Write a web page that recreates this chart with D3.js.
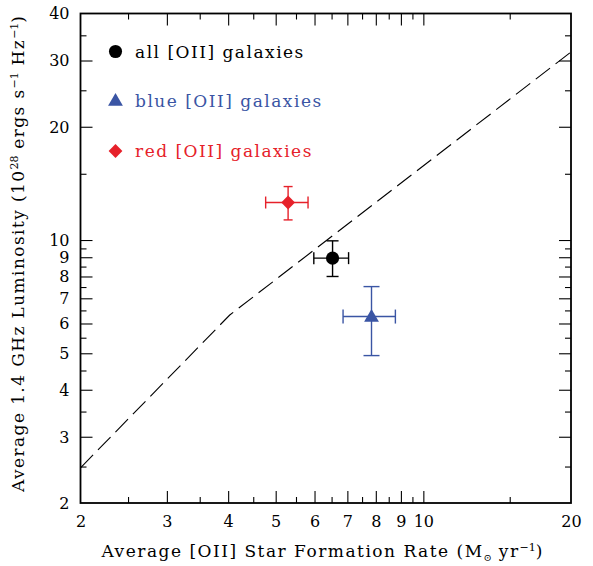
<!DOCTYPE html>
<html><head><meta charset="utf-8">
<script src="https://cdn.jsdelivr.net/npm/d3@7"></script>
<style>
body{margin:0;background:#fff;}
svg{display:block;}
text{font-family:"DejaVu Serif",serif;}
</style></head>
<body><svg id="c" width="593" height="566"></svg>
<script>
// ---- data ----
const seriesNames = ["all [OII] galaxies", "blue [OII] galaxies", "red [OII] galaxies"];
const sfrValues   = [6.53, 7.84, 5.30];
const sfrLow      = [5.98, 6.86, 4.77];
const sfrHigh     = [7.04, 8.77, 5.82];
const lumValues   = [8.95, 6.26, 12.58];
const lumLow      = [8.00, 4.93, 11.31];
const lumHigh     = [9.95, 7.52, 13.87];
const relSfr = [2, 4.03, 20];
const relLum = [2.48, 6.32, 31.6];
const xMajorTicks = [3,4,5,6,7,8,9,10];
const xMinorTicks = [2.5,3.5,4.5,5.5,6.5,7.5,8.5,9.5,15];
const xTickLabels = [2,3,4,5,6,7,8,9,10,20];
const yMajorTicks = [3,4,5,6,7,8,9,10,20,30];
const yMinorTicks = [2.5,3.5,4.5,5.5,6.5,7.5,8.5,9.5,15,25,35];
const yTickLabels = [2,3,4,5,6,7,8,9,10,20,30,40];

// ---- styles ----
const colors = ["#000000", "#3a55a4", "#e6212a"];
const shapes = [d3.symbolCircle, d3.symbolTriangle, d3.symbolSquare];
const symSize = [135, 95, 95];
const symRot = [0, 0, 45];
const capX = [6, 7, 6];   // half height of caps on x error bar
const capY = [6, 8, 4.5]; // half width of caps on y error bar

const L = 80.5, R = 571, T = 13.5, B = 503;
const svg = d3.select("#c");
const x = d3.scaleLog().domain([2,20]).range([L,R]);
const y = d3.scaleLog().domain([2,40]).range([B,T]);

function ax(gen, tr, vals, size, labels){
  const g = svg.append("g").attr("transform", tr)
    .call(gen.tickValues(vals).tickSize(size).tickPadding(labels?9:0)
      .tickFormat(labels ? d3.format("d") : ""));
  g.select(".domain").remove();
  g.selectAll(".tick line").attr("stroke","#000").attr("stroke-width",1.1);
  g.selectAll(".tick text").attr("font-size",16).attr("fill","#000").attr("font-family","DejaVu Serif");
  return g;
}
// bottom
ax(d3.axisBottom(x), `translate(0,${B})`, xMajorTicks, -12, false);
ax(d3.axisBottom(x), `translate(0,${B})`, xMinorTicks, -6, false);
const xl = ax(d3.axisBottom(x), `translate(0,${B})`, xTickLabels, 0, true);
xl.selectAll(".tick text").attr("dy","0.95em");
// top
ax(d3.axisTop(x), `translate(0,${T})`, xMajorTicks, -12, false);
ax(d3.axisTop(x), `translate(0,${T})`, xMinorTicks, -6, false);
// left
ax(d3.axisLeft(y), `translate(${L},0)`, yMajorTicks, -12, false);
ax(d3.axisLeft(y), `translate(${L},0)`, yMinorTicks, -6, false);
const yl = ax(d3.axisLeft(y), `translate(${L},0)`, yTickLabels, 0, true);
yl.selectAll(".tick text").attr("x",-11).attr("dy","0.34em");
// right
ax(d3.axisRight(y), `translate(${R},0)`, yMajorTicks, -12, false);
ax(d3.axisRight(y), `translate(${R},0)`, yMinorTicks, -6, false);

// frame
svg.append("rect").attr("x",L).attr("y",T).attr("width",R-L).attr("height",B-T)
  .attr("fill","none").attr("stroke","#000").attr("stroke-width",1.8);

// relation line
const rel = relSfr.map((s,i)=>[s, relLum[i]]);
svg.append("path").datum(rel)
  .attr("d", d3.line().x(d=>x(d[0])).y(d=>y(d[1])))
  .attr("fill","none").attr("stroke","#000").attr("stroke-width",1.1)
  .attr("stroke-dasharray","18,7");

// error bars + markers
seriesNames.forEach((n,i)=>{
  const g = svg.append("g").attr("stroke",colors[i]).attr("stroke-width",1.4).attr("fill","none");
  const cx = x(sfrValues[i]), cy = y(lumValues[i]);
  const x0 = x(sfrLow[i]), x1 = x(sfrHigh[i]), y0 = y(lumLow[i]), y1 = y(lumHigh[i]);
  g.append("line").attr("x1",x0).attr("x2",x1).attr("y1",cy).attr("y2",cy);
  g.append("line").attr("x1",cx).attr("x2",cx).attr("y1",y0).attr("y2",y1);
  [x0,x1].forEach(v=>g.append("line").attr("x1",v).attr("x2",v).attr("y1",cy-capX[i]).attr("y2",cy+capX[i]));
  [y0,y1].forEach(v=>g.append("line").attr("y1",v).attr("y2",v).attr("x1",cx-capY[i]).attr("x2",cx+capY[i]));
  svg.append("path").attr("d", d3.symbol().type(shapes[i]).size(symSize[i])())
    .attr("transform",`translate(${cx},${cy + (i===1?1:0)}) rotate(${symRot[i]})`).attr("fill",colors[i]);
});

// legend
const legY = [51.5, 100.5, 151];
seriesNames.forEach((n,i)=>{
  svg.append("path").attr("d", d3.symbol().type(shapes[i]).size(symSize[i])())
    .attr("transform",`translate(115.5,${legY[i] + (i===1?1:0)}) rotate(${symRot[i]})`).attr("fill",colors[i]);
  svg.append("text").attr("x",135).attr("y",legY[i]).attr("dy","0.36em")
    .attr("font-size",17).attr("letter-spacing",1.5).attr("fill",colors[i]).text(n);
});

// axis titles
const xt = svg.append("text").attr("x",(L+R)/2 - 3).attr("y",557).attr("text-anchor","middle")
  .attr("font-size",17).attr("letter-spacing",1.5).attr("fill","#000");
xt.append("tspan").text("Average [OII] Star Formation Rate (M");
xt.append("tspan").attr("font-size",10).attr("dy",4).attr("letter-spacing",0).text("\u2299");
xt.append("tspan").attr("dy",-4).text(" yr");
xt.append("tspan").attr("font-size",11).attr("dy",-6).attr("letter-spacing",0).text("\u22121");
xt.append("tspan").attr("dy",6).text(")");

const yt = svg.append("text").attr("transform",`translate(24,${(T+B)/2 - 5}) rotate(-90)`)
  .attr("text-anchor","middle").attr("font-size",17).attr("letter-spacing",1.4).attr("fill","#000");
yt.append("tspan").text("Average 1.4 GHz Luminosity (10");
yt.append("tspan").attr("font-size",11).attr("dy",-6).attr("letter-spacing",0).text("28");
yt.append("tspan").attr("dy",6).text(" ergs s");
yt.append("tspan").attr("font-size",11).attr("dy",-6).attr("letter-spacing",0).text("\u22121");
yt.append("tspan").attr("dy",6).text(" Hz");
yt.append("tspan").attr("font-size",11).attr("dy",-6).attr("letter-spacing",0).text("\u22121");
yt.append("tspan").attr("dy",6).text(")");
</script></body></html>
